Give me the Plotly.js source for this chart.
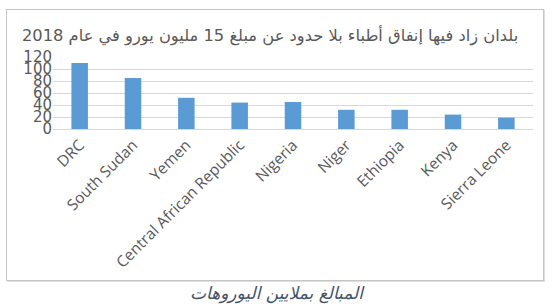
<!DOCTYPE html>
<html><head><meta charset="utf-8">
<script src="https://cdn.plot.ly/plotly-3.0.1.min.js"></script>
<style>
html,body{margin:0;padding:0;background:#fff;}
#frame{position:absolute;left:6px;top:9px;width:536px;height:270px;border:1px solid #c6c6c6;box-shadow:1px 1px 0 #dedede;}
#chart{position:absolute;left:0;top:0;width:552px;height:307px;}
</style></head>
<body>
<div id="frame"></div>
<div id="chart"></div>
<script>
const countries = ["DRC","South Sudan","Yemen","Central African Republic","Nigeria","Niger","Ethiopia","Kenya","Sierra Leone"];
const amounts = [110, 85, 52, 44, 45, 32, 32, 24, 19];
const yTicks = [0, 20, 40, 60, 80, 100, 120];
const titleText = "بلدان زاد فيها إنفاق أطباء بلا حدود عن مبلغ 15 مليون يورو في عام 2018";
const axisTitleText = "المبالغ بملايين اليوروهات";

const trace = {
  type: "bar",
  x: countries,
  y: amounts,
  marker: {color: "#5B9BD5", line: {width: 0}},
  hoverinfo: "x+y"
};
const layout = {
  width: 552, height: 307,
  margin: {l: 53, r: 18.5, t: 57.3, b: 177.5, pad: 0},
  paper_bgcolor: "rgba(0,0,0,0)",
  plot_bgcolor: "rgba(0,0,0,0)",
  bargap: 0.69,
  showlegend: false,
  font: {family: "DejaVu Sans", color: "#595959"},
  xaxis: {
    type: "category",
    tickangle: -45,
    tickfont: {family: "Open Sans", size: 15.5, color: "#595959"},
    showgrid: false,
    showline: true, linecolor: "#d9d9d9", linewidth: 1,
    ticks: "",
    fixedrange: true
  },
  yaxis: {
    range: [0, 120],
    tickvals: yTicks,
    ticktext: yTicks.map(String),
    tickfont: {family: "DejaVu Sans", size: 15, color: "#595959"},
    showgrid: true, gridcolor: "#d9d9d9", gridwidth: 1,
    zeroline: false, showline: false, ticks: "",
    fixedrange: true
  },
  annotations: [
    {text: titleText, xref: "paper", yref: "paper", x: 0.972, y: 1.13, xanchor: "right", yanchor: "bottom",
     showarrow: false, font: {family: "DejaVu Sans", size: 16.3, color: "#595959"}},
    {text: "<i>" + axisTitleText + "</i>", xref: "paper", yref: "paper", x: 0.468, y: -2.28, xanchor: "center", yanchor: "middle",
     showarrow: false, font: {family: "DejaVu Sans", size: 17, color: "#44546A"}}
  ]
};
Plotly.newPlot("chart", [trace], layout, {displayModeBar: false, staticPlot: true});
</script>
</body></html>
